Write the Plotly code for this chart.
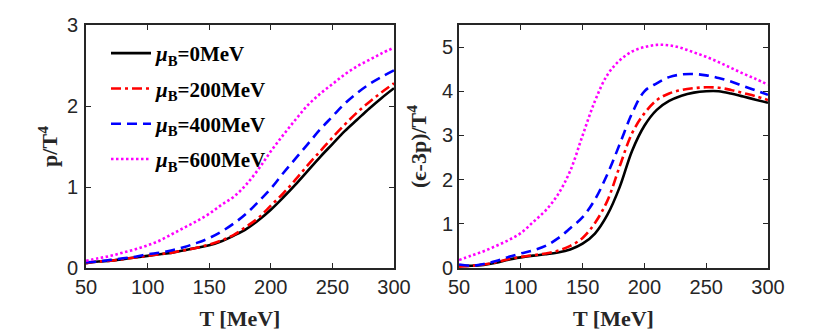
import plotly.graph_objects as go

T = [50, 60, 70, 80, 90, 100, 110, 120, 130, 140, 150, 160, 170, 180, 190,
     200, 210, 220, 230, 240, 250, 260, 270, 280, 290, 300]

# p/T^4
p_mu0 = [0.06, 0.08, 0.09, 0.11, 0.13, 0.15, 0.17, 0.19, 0.22, 0.25, 0.28, 0.33, 0.40,
         0.48, 0.59, 0.72, 0.87, 1.03, 1.20, 1.37, 1.53, 1.69, 1.83, 1.97, 2.10, 2.22]
p_mu200 = [0.06, 0.08, 0.09, 0.11, 0.13, 0.15, 0.17, 0.19, 0.22, 0.25, 0.29, 0.34, 0.41,
           0.51, 0.62, 0.77, 0.92, 1.09, 1.27, 1.44, 1.61, 1.77, 1.92, 2.05, 2.17, 2.28]
p_mu400 = [0.07, 0.08, 0.10, 0.12, 0.14, 0.17, 0.19, 0.22, 0.26, 0.31, 0.37, 0.45, 0.55,
           0.67, 0.82, 0.98, 1.17, 1.35, 1.53, 1.71, 1.87, 2.03, 2.16, 2.27, 2.36, 2.44]
p_mu600 = [0.09, 0.12, 0.15, 0.19, 0.23, 0.28, 0.34, 0.42, 0.50, 0.58, 0.67, 0.78, 0.88,
           1.03, 1.22, 1.44, 1.64, 1.83, 2.01, 2.15, 2.27, 2.39, 2.49, 2.57, 2.65, 2.72]

# (eps-3p)/T^4
i_mu0 = [0.05, 0.05, 0.07, 0.12, 0.19, 0.24, 0.28, 0.31, 0.35, 0.42, 0.55, 0.78, 1.20,
         1.83, 2.65, 3.22, 3.58, 3.78, 3.90, 3.97, 4.00, 4.00, 3.95, 3.88, 3.81, 3.74]
i_mu200 = [0.03, 0.05, 0.08, 0.13, 0.20, 0.25, 0.29, 0.33, 0.39, 0.50, 0.68, 1.02, 1.52,
           2.30, 3.05, 3.50, 3.80, 3.95, 4.03, 4.07, 4.09, 4.08, 4.03, 3.96, 3.89, 3.80]
i_mu400 = [0.08, 0.05, 0.09, 0.16, 0.25, 0.33, 0.40, 0.50, 0.67, 0.90, 1.15, 1.55, 2.12,
           2.80, 3.50, 4.00, 4.18, 4.32, 4.38, 4.39, 4.36, 4.30, 4.22, 4.12, 4.02, 3.92]
i_mu600 = [0.18, 0.28, 0.38, 0.50, 0.63, 0.79, 1.04, 1.30, 1.66, 2.20, 3.00, 3.78, 4.37,
           4.70, 4.90, 5.00, 5.05, 5.04, 4.98, 4.88, 4.78, 4.66, 4.53, 4.40, 4.28, 4.15]

labels = ["<b><i>μ</i><sub>B</sub>=0MeV</b>", "<b><i>μ</i><sub>B</sub>=200MeV</b>",
          "<b><i>μ</i><sub>B</sub>=400MeV</b>", "<b><i>μ</i><sub>B</sub>=600MeV</b>"]
colors = ["#000000", "#ff0000", "#0000ff", "#ff00ff"]
dashes = ["solid", "10px,4px,3px,4px", "10px,6px", "2.5px,2.5px"]

p_series = [p_mu0, p_mu200, p_mu400, p_mu600]
i_series = [i_mu0, i_mu200, i_mu400, i_mu600]

fig = go.Figure()
for k in range(4):
    fig.add_trace(go.Scatter(x=T, y=p_series[k], mode="lines", name=labels[k],
                             legendgroup="g%d" % k,
                             line=dict(color=colors[k], dash=dashes[k], width=2.6, shape="spline"),
                             xaxis="x", yaxis="y", showlegend=True))
for k in range(4):
    fig.add_trace(go.Scatter(x=T, y=i_series[k], mode="lines", name=labels[k],
                             legendgroup="g%d" % k,
                             line=dict(color=colors[k], dash=dashes[k], width=2.6, shape="spline"),
                             xaxis="x2", yaxis="y2", showlegend=False))

W, H = 830, 333
OFF = 8  # page body margin offset

tickfont = dict(family="Liberation Sans, Arial, sans-serif", size=20, color="#262626")
titlefont = dict(family="Liberation Serif, Times New Roman, serif", size=22, color="#262626")
axis_common = dict(showline=True, linecolor="#262626", linewidth=1.6, mirror="ticks",
                   ticks="inside", ticklen=5, tickwidth=1.4, tickcolor="#262626",
                   showgrid=False, zeroline=False, tickfont=tickfont, automargin=False)

ydom = [(H - 268 + OFF) / H, (H - 25 + OFF) / H]

fig.update_layout(
    template="none",
    width=W, height=H,
    margin=dict(l=0, r=0, t=0, b=0, autoexpand=False),
    paper_bgcolor="white", plot_bgcolor="white",
    xaxis=dict(domain=[(86 - OFF) / W, (394 - OFF) / W], range=[50, 300],
               tickvals=[50, 100, 150, 200, 250, 300],
               title=dict(text="<b>T [MeV]</b>", font=titlefont, standoff=14), anchor="y", **axis_common),
    yaxis=dict(domain=ydom, range=[0, 3], tickvals=[0, 1, 2, 3], ticklabelstandoff=2,
               title=dict(text="<b>p/T<sup>4</sup></b>", font=titlefont, standoff=3), anchor="x", **axis_common),
    xaxis2=dict(domain=[(459 - OFF) / W, (768 - OFF) / W], range=[50, 300],
                tickvals=[50, 100, 150, 200, 250, 300],
                title=dict(text="<b>T [MeV]</b>", font=titlefont, standoff=14), anchor="y2", **axis_common),
    yaxis2=dict(domain=ydom, range=[0, 5.5], tickvals=[0, 1, 2, 3, 4, 5],
                title=dict(text="<b>(ϵ-3p)/T<sup>4</sup></b>", font=titlefont, standoff=9), anchor="x2", **axis_common),
    legend=dict(x=(106 - OFF) / W, y=(H - 33 + OFF) / H, xanchor="left", yanchor="top",
                bgcolor="rgba(0,0,0,0)", borderwidth=0,
                font=dict(family="Liberation Serif, Times New Roman, serif", size=21, color="#000000"),
                itemwidth=40, tracegroupgap=5),
)

fig.write_html("out.html")
